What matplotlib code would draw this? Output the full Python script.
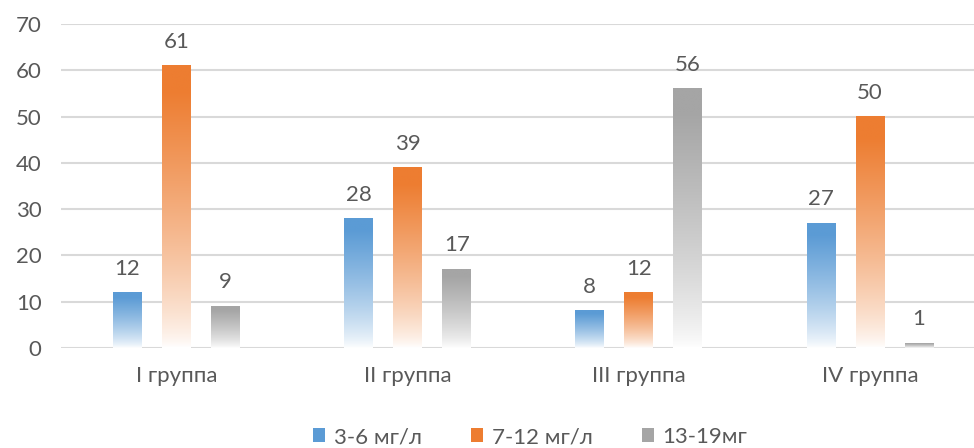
import numpy as np
import matplotlib
matplotlib.use("Agg")
from matplotlib import pyplot as plt
from matplotlib.colors import to_rgb
from matplotlib.patches import Patch

plt.rcParams['font.family'] = ['Lato', 'DejaVu Sans']

groups = ['I группа', 'II группа', 'III группа', 'IV группа']
series_names = ['3-6 мг/л', '7-12 мг/л', '13-19мг']
low = [12, 28, 8, 27]
mid = [61, 39, 12, 50]
high = [9, 17, 56, 1]
series = [low, mid, high]
colors = ['#5b9bd5', '#ed7d31', '#a5a5a5']

W, H = 974, 448
fig = plt.figure(figsize=(W / 100, H / 100), dpi=100)
ax = fig.add_axes([61 / W, 100 / H, (W - 61) / W, 324 / H])

x = np.arange(len(groups))
bw = 0.125
step = 0.212
text_col = '#595959'
fs = 16


def gradient_fill(ax, bar, color):
    # цвет сверху, к основанию столбца плавно переходит в белый
    n = 200
    t = np.linspace(1, 0, n)[:, None]
    m = np.clip(t * 1.1, 0, 1) ** 0.75
    c = np.array(to_rgb(color))
    img = np.ones((n, 1, 3)) * (1 - m[..., None]) + c * m[..., None]
    x0, w, h = bar.get_x(), bar.get_width(), bar.get_height()
    ax.imshow(img, extent=[x0, x0 + w, 0, h], aspect='auto', zorder=3,
              interpolation='bilinear')


for i, (vals, col) in enumerate(zip(series, colors)):
    pos = x + (i - 1) * step
    bars = ax.bar(pos, vals, width=bw, color='none', zorder=3)
    for b, v in zip(bars, vals):
        gradient_fill(ax, b, col)
        ax.annotate(str(v), (b.get_x() + b.get_width() / 2, v),
                    xytext=(0, 10), textcoords='offset points',
                    ha='center', va='bottom', fontsize=fs, color=text_col)

ax.set_xlim(-0.5, 3.45)
ax.set_ylim(0, 70)
ax.set_yticks(range(0, 71, 10))
ax.yaxis.grid(True, color='#d9d9d9', linewidth=1.5, zorder=0)
ax.set_axisbelow(True)
for s in ax.spines.values():
    s.set_visible(False)
ax.tick_params(axis='both', length=0, labelsize=fs, colors=text_col)
ax.tick_params(axis='y', pad=14)
ax.tick_params(axis='x', pad=13)
ax.set_xticks(x)
ax.set_xticklabels(groups)

handles = [Patch(facecolor=c, label=n) for c, n in zip(colors, series_names)]
fig.legend(handles=handles, loc='center', bbox_to_anchor=(530 / W, 11 / H),
           ncol=3, frameon=False, fontsize=fs, handlelength=0.55,
           handleheight=0.55, handletextpad=0.4, columnspacing=2.2,
           labelcolor=text_col)

fig.savefig('out.png', dpi=100, facecolor='white')
